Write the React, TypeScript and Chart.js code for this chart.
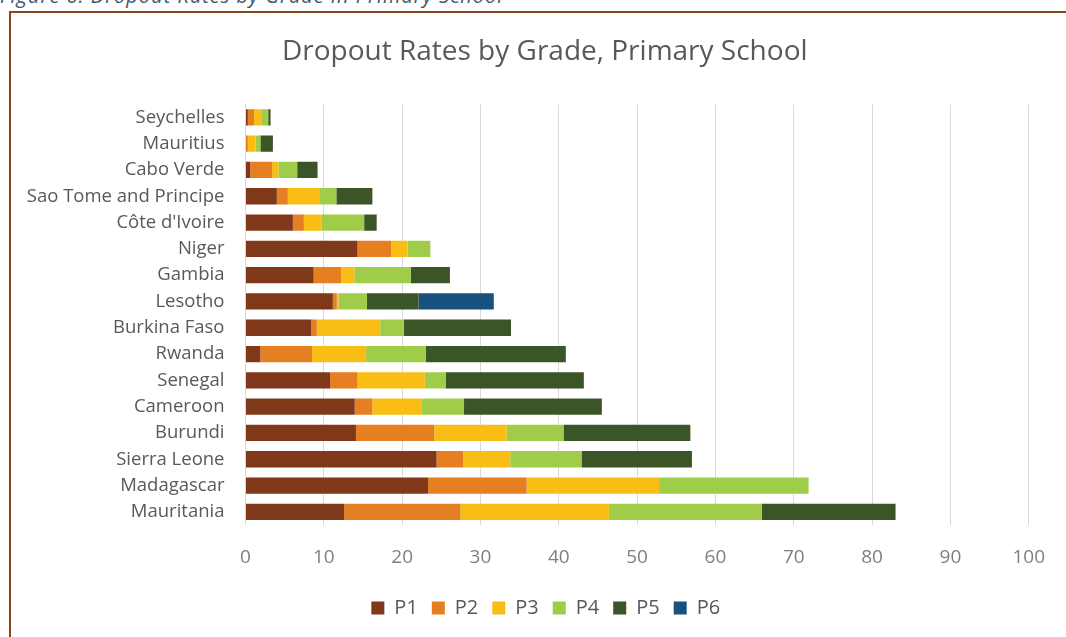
import React, { useEffect, useRef } from "react";
import { Chart, registerables } from "chart.js";

Chart.register(...registerables);

const captionText = "Figure 6: Dropout Rates by Grade in Primary School";
const chartTitle = "Dropout Rates by Grade, Primary School";

const categories = [
  "Seychelles",
  "Mauritius",
  "Cabo Verde",
  "Sao Tome and Principe",
  "Côte d'Ivoire",
  "Niger",
  "Gambia",
  "Lesotho",
  "Burkina Faso",
  "Rwanda",
  "Senegal",
  "Cameroon",
  "Burundi",
  "Sierra Leone",
  "Madagascar",
  "Mauritania",
];

const p1 = [0.3, 0, 0.6, 4.0, 6.05, 14.3, 8.7, 11.15, 8.4, 1.9, 10.8, 13.95, 14.1, 24.4, 23.3, 12.6];
const p2 = [0.8, 0.3, 2.8, 1.4, 1.4, 4.3, 3.5, 0.5, 0.7, 6.6, 3.5, 2.25, 10.0, 3.4, 12.6, 14.85];
const p3 = [1.0, 1.0, 0.8, 4.0, 2.3, 2.1, 1.7, 0.25, 8.1, 6.9, 8.6, 6.25, 9.25, 6.0, 16.9, 18.95];
const p4 = [0.8, 0.6, 2.4, 2.2, 5.4, 2.9, 7.2, 3.6, 3.0, 7.6, 2.7, 5.45, 7.25, 9.1, 19.1, 19.5];
const p5 = [0.3, 1.6, 2.6, 4.6, 1.6, 0, 5.0, 6.6, 13.7, 17.9, 17.6, 17.6, 16.2, 14.1, 0, 17.1];
const p6 = [0, 0, 0, 0, 0, 0, 0, 9.6, 0, 0, 0, 0, 0, 0, 0, 0];

const seriesNames = ["P1", "P2", "P3", "P4", "P5", "P6"];
const seriesValues = [p1, p2, p3, p4, p5, p6];
const seriesColors = ["#7F391A", "#E67E22", "#F8BE15", "#9FCD4A", "#3C5527", "#18507E"];

const xMin = 0;
const xMax = 100;
const xStep = 10;

const FONT = "'Open Sans', 'Noto Sans', sans-serif";

// Excel-style placement: title and legend sit slightly right of the plot-area centre
const shiftBoxes = {
  id: "shiftBoxes",
  afterLayout(chart: any) {
    const t = chart.titleBlock;
    if (t) {
      t.left += 24;
      t.right += 24;
    }
    const l = chart.legend;
    if (l) {
      l.left += 25;
      l.right += 25;
    }
  },
};

export default function App() {
  const canvasRef = useRef<HTMLCanvasElement | null>(null);

  useEffect(() => {
    if (!canvasRef.current) return;
    const chart = new Chart(canvasRef.current, {
      type: "bar",
      data: {
        labels: categories,
        datasets: seriesNames.map((name, i) => ({
          label: name,
          data: seriesValues[i],
          backgroundColor: seriesColors[i],
          borderWidth: 0,
          barPercentage: 0.62,
          categoryPercentage: 1,
        })),
      },
      options: {
        indexAxis: "y",
        responsive: false,
        maintainAspectRatio: false,
        animation: false,
        layout: { padding: { left: 0, right: 35.5, top: 0, bottom: 9 } },
        scales: {
          x: {
            stacked: true,
            min: xMin,
            max: xMax,
            ticks: {
              stepSize: xStep,
              color: "#7F7F7F",
              font: { family: FONT, size: 19 },
              padding: 21,
            },
            grid: { color: "#D9D9D9", lineWidth: 1, drawTicks: false },
            border: { display: false },
            afterFit: (scale: any) => {
              scale.height = 59;
            },
          },
          y: {
            stacked: true,
            ticks: {
              color: "#595959",
              font: { family: FONT, size: 18.5 },
              padding: 21,
            },
            grid: { display: false, drawTicks: false },
            border: { display: false },
            afterFit: (scale: any) => {
              scale.width = 234.5;
            },
          },
        },
        plugins: {
          title: {
            display: true,
            text: chartTitle,
            color: "#595959",
            font: { family: FONT, size: 28, weight: "normal" },
            padding: { top: 22, bottom: 35.6 },
          },
          legend: {
            position: "bottom",
            labels: {
              color: "#595959",
              font: { family: FONT, size: 20 },
              boxWidth: 13,
              boxHeight: 13,
              padding: 14,
            },
          },
          tooltip: { enabled: false },
        },
      },
      plugins: [shiftBoxes],
    });
    return () => chart.destroy();
  }, []);

  return (
    <div
      style={{
        position: "fixed",
        left: 0,
        top: 0,
        width: 1066,
        height: 637,
        overflow: "hidden",
        background: "#FFFFFF",
      }}
    >
      <div
        style={{
          position: "absolute",
          left: 0,
          top: -16,
          fontFamily: FONT,
          fontStyle: "italic",
          fontSize: 20,
          lineHeight: "24px",
          letterSpacing: "1px",
          color: "#44546A",
          whiteSpace: "nowrap",
        }}
      >
        {captionText}
      </div>
      <div
        style={{
          position: "absolute",
          left: 9,
          top: 11,
          width: 1120,
          height: 700,
          borderLeft: "2px solid #8B451E",
          borderTop: "2px solid #8B451E",
          boxSizing: "border-box",
        }}
      />
      <canvas
        ref={canvasRef}
        width={1055}
        height={624}
        style={{ position: "absolute", left: 11, top: 13, width: 1055, height: 624 }}
      />
    </div>
  );
}
